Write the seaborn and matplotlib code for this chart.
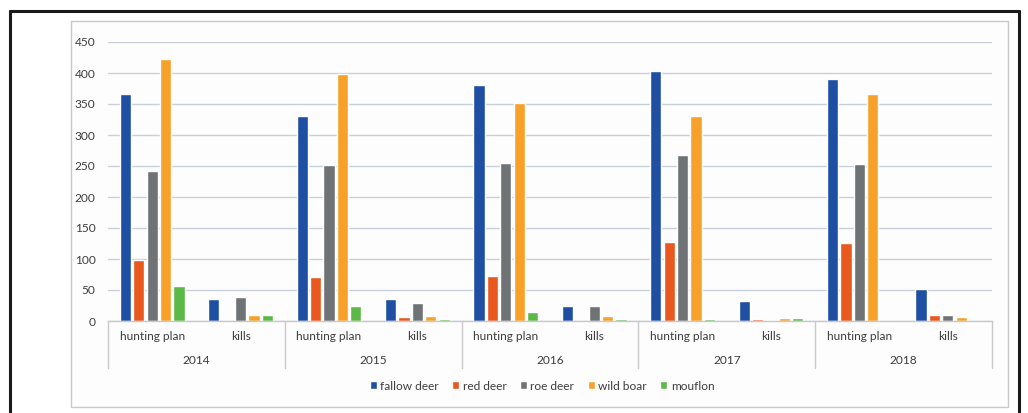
import matplotlib
matplotlib.use("Agg")
import matplotlib.pyplot as plt
from matplotlib.patches import Rectangle
from matplotlib.lines import Line2D
import matplotlib.transforms as mtransforms
import pandas as pd
import seaborn as sns

# Hunting plan vs. actual kills per species, 2014-2018
years = ["2014", "2015", "2016", "2017", "2018"]
periods = ["hunting plan", "kills"]
species = ["fallow deer", "red deer", "roe deer", "wild boar", "mouflon"]

# values ordered: 2014 plan, 2014 kills, 2015 plan, 2015 kills, ...
fallow_deer = [366, 35, 330, 36, 380, 24, 403, 32, 390, 52]
red_deer = [98, 0, 71, 6.5, 73, 0, 127, 3, 126, 9]
roe_deer = [242, 38, 252, 29, 255, 25, 267, 2, 254, 10]
wild_boar = [422, 9, 399, 7.5, 351, 8, 330, 5, 366, 6]
mouflon = [56, 10, 25, 4, 15, 4, 4, 5, 0, 0]

colors = ["#1f4fa3", "#e8581f", "#6f7376", "#f7a12b", "#5cb947"]

groups = [f"{y} {p}" for y in years for p in periods]
series = dict(zip(species, [fallow_deer, red_deer, roe_deer, wild_boar, mouflon]))
rows = []
for sp, vals in series.items():
    for g, v in zip(groups, vals):
        rows.append({"group": g, "species": sp, "value": v})
df = pd.DataFrame(rows)

sns.set_theme(style="white")
plt.rcParams["font.family"] = ["Lato", "DejaVu Sans"]
text_color = "#3d3d3d"
fs = 8.6

W, H = 1028, 413
fig = plt.figure(figsize=(W / 100, H / 100), dpi=100)
fig.patch.set_facecolor("white")

# outer frame and inner chart panel
fig.add_artist(Line2D([10 / W, 10 / W], [0, 1 - 11 / H], color="#1a1a1a", lw=2.2))
fig.add_artist(Line2D([10 / W, 1019 / W], [1 - 11 / H, 1 - 11 / H], color="#1a1a1a", lw=2.2))
fig.add_artist(Line2D([1019 / W, 1019 / W], [0, 1 - 11 / H], color="#1a1a1a", lw=2.2))
fig.add_artist(Rectangle((70.5 / W, 1 - 407 / H), (1008 - 70.5) / W, (407 - 21) / H,
                         facecolor="#fdfdfd", edgecolor="#c9c9c9", lw=1.0,
                         transform=fig.transFigure, zorder=0))

left, right = 108 / W, 992 / W
bottom, top = 1 - 321 / H, 1 - 42 / H
ax = fig.add_axes([left, bottom, right - left, top - bottom])
ax.set_facecolor("none")

sns.barplot(data=df, x="group", y="value", hue="species", order=groups,
            hue_order=species, palette=colors, width=0.76, gap=0.17,
            saturation=1, ax=ax, legend=True)

ax.set_ylim(0, 450)
ax.set_xlim(-0.5, len(groups) - 0.5)
ax.set_yticks(range(0, 451, 50))
ax.yaxis.grid(True, color="#c7d0da", lw=1.0)
ax.set_axisbelow(True)
for s in ["top", "right", "left"]:
    ax.spines[s].set_visible(False)
ax.spines["bottom"].set_color("#c9c9c9")
ax.spines["bottom"].set_linewidth(1.0)
ax.tick_params(axis="y", length=0, pad=9, labelsize=fs, labelcolor=text_color)
ax.tick_params(axis="x", length=0, labelbottom=False)
ax.set_xlabel("")
ax.set_ylabel("")

# two-level category axis
trans = mtransforms.blended_transform_factory(ax.transData, ax.transAxes)
for i, g in enumerate(groups):
    ax.text(i, -0.057, g.split(" ", 1)[1], transform=trans, ha="center", va="center",
            fontsize=fs, color=text_color)
for j, y in enumerate(years):
    ax.text(2 * j + 0.5, -0.14, y, transform=trans, ha="center", va="center",
            fontsize=fs, color=text_color)
for b in range(len(years) + 1):
    ax.add_line(Line2D([2 * b - 0.5, 2 * b - 0.5], [0, -0.168], transform=trans,
                       color="#c9c9c9", lw=1.0, clip_on=False))

handles, labels = ax.get_legend_handles_labels()
ax.legend_.remove()
fig.legend(handles, labels, loc="center", bbox_to_anchor=(542 / W, 1 - 386 / H),
           ncol=5, frameon=False, fontsize=fs, handlelength=0.6, handleheight=0.6,
           handletextpad=0.3, columnspacing=1.1, labelcolor=text_color)

fig.savefig("out.png", dpi=100)
